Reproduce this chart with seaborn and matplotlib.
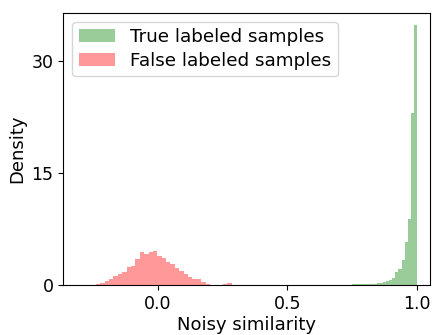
import numpy as np
import pandas as pd
import matplotlib
matplotlib.use('Agg')
import matplotlib.pyplot as plt
import seaborn as sns

# density per bin
red_start, red_width = -0.238, 0.0169
red_heights = [0.1, 0.3, 0.55, 0.8, 1.25, 1.45, 1.8, 2.4, 2.6, 3.45, 4.4, 4.2, 4.5, 4.6,
               3.95, 3.65, 3.1, 2.8, 2.3, 1.9, 1.55, 1.15, 0.85, 0.75, 0.45, 0.2,
               0.05, 0.0, 0.0, 0.2, 0.25, 0.05, 0.0, 0.0, 0.03, 0.0, 0.0, 0.0, 0.02]

green_start, green_width = 0.52, 0.012
green_heights = [0.02, 0.0, 0.03, 0.0, 0.04, 0.02, 0.05, 0.03, 0.05, 0.04,
                 0.05, 0.04, 0.06, 0.06, 0.07, 0.08, 0.08, 0.1, 0.1, 0.12,
                 0.14, 0.16, 0.18, 0.22, 0.28, 0.35, 0.5, 0.7, 1.0, 1.7,
                 2.1, 3.4, 5.8, 8.8, 23.1, 34.9]

xticks = [0.0, 0.5, 1.0]
yticks = [0, 15, 30]

red_edges = red_start + red_width * np.arange(len(red_heights) + 1)
green_edges = green_start + green_width * np.arange(len(green_heights) + 1)
green_edges = green_edges - green_edges[-1] + 1.0

red_df = pd.DataFrame({'x': (red_edges[:-1] + red_edges[1:]) / 2, 'w': red_heights})
green_df = pd.DataFrame({'x': (green_edges[:-1] + green_edges[1:]) / 2, 'w': green_heights})

fig = plt.figure(figsize=(4.36, 3.35), dpi=100)
ax = fig.add_axes([0.145, 0.149, 0.841, 0.813])

sns.histplot(data=green_df, x='x', weights='w', bins=list(green_edges), stat='count',
             color='green', alpha=0.4, linewidth=0, label='True labeled samples', ax=ax)
sns.histplot(data=red_df, x='x', weights='w', bins=list(red_edges), stat='count',
             color='red', alpha=0.4, linewidth=0, label='False labeled samples', ax=ax)

ax.set_xlim(-0.364, 1.049)
ax.set_ylim(0, 36.5)
ax.set_xticks(xticks)
ax.set_yticks(yticks)
ax.tick_params(labelsize=12.5)
ax.set_xlabel('Noisy similarity', fontsize=13, labelpad=2)
ax.set_ylabel('Density', fontsize=13)
ax.legend(loc='upper left', fontsize=13.2, labelspacing=0.3, borderpad=0.35)

fig.savefig('out.png', dpi=100)
